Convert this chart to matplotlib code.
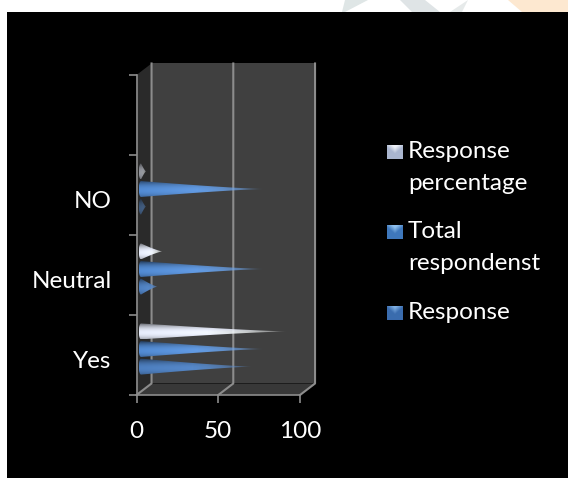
import numpy as np
import matplotlib
matplotlib.use("Agg")
import matplotlib.pyplot as plt
from matplotlib.colors import to_rgb
from matplotlib.patches import Polygon, Rectangle

categorias = ["Yes", "Neutral", "NO", ""]
response = [68, 10, 3]
total_respondents = [75, 75, 75]
response_percentage = [89, 13, 3]

series_labels = ["Response\npercentage", "Total\nrespondenst", "Response"]
x_ticks = [0, 50, 100]

W, H = 568, 478
plt.rcParams["font.family"] = ["Lato", "DejaVu Sans"]

fig = plt.figure(figsize=(W / 100, H / 100), dpi=100, facecolor="white")

# fondo negro y marca de agua de la pagina
fig.patches.append(Rectangle((7 / W, 0), (W - 7) / W, 1 - 12 / H, transform=fig.transFigure,
                             facecolor="black", edgecolor="none", zorder=-1))
for pts, col in [([(345, 0), (368, 0), (345, 12), (342, 12)], "#dfe6e6"),
                 ([(400, 0), (425, 0), (440, 12), (412, 12)], "#dfe4e6"),
                 ([(450, 12), (468, 0), (462, 12)], "#e6eaea"),
                 ([(508, 0), (568, 0), (568, 12), (522, 12)], "#fde8d0")]:
    fig.patches.append(Polygon([(x / W, 1 - y / H) for x, y in pts], transform=fig.transFigure,
                               facecolor=col, edgecolor="none", zorder=-2))

ax = fig.add_axes([136.5 / W, 1 - 395 / H, 163.5 / W, 320 / H])
ax.patch.set_visible(False)

DX, DY = 9.2, 0.144      # profundidad de la caja 3D en unidades de datos
GRIS = "#8c8c8c"

# paredes de la caja
ax.add_patch(Polygon([(DX, DY), (100 + DX, DY), (100 + DX, 4 + DY), (DX, 4 + DY)],
                     facecolor="#404040", edgecolor="none", clip_on=False, zorder=1))
ax.add_patch(Polygon([(0, 0), (DX, DY), (DX, 4 + DY), (0, 4)],
                     facecolor="#2a2a2a", edgecolor="none", clip_on=False, zorder=1))
ax.add_patch(Polygon([(0, 0), (100, 0), (100 + DX, DY), (DX, DY)],
                     facecolor="#383838", edgecolor="none", clip_on=False, zorder=1))

# rejilla sobre la pared y el piso
for v in x_ticks:
    ax.plot([v, v + DX, v + DX], [0, DY, 4 + DY], color=GRIS, lw=1.5, clip_on=False, zorder=2)


def cono(valor, yc, color, brillo):
    # barra conica horizontal con degradado, recortada a su silueta
    x0, x1 = 2.75, 2.75 + valor
    yc = yc + 0.075
    alto = 0.1
    n, m = 40, 120
    rgb = np.array(to_rgb(color))
    t = np.linspace(-1, 1, n)[:, None]
    s = np.linspace(0, 1, m)[None, :]
    luz = 1 - (t + 0.2) ** 2
    img = np.zeros((n, m, 4))
    for k in range(3):
        img[:, :, k] = np.clip(rgb[k] * (0.62 + 0.42 * luz) + brillo * s, 0, 1)
    # las barras muy cortas quedan casi apagadas
    opaco = 0.55 if valor < 5 else 1.0
    img[:, :, 3] = opaco * np.clip(1.1 - s ** 3, 0, 1)
    im = ax.imshow(img, extent=(x0 - 1.5, x1 + 1, yc - alto, yc + alto), origin="lower",
                   aspect="auto", interpolation="bilinear", zorder=4)
    base = np.linspace(np.pi / 2, 3 * np.pi / 2, 12)
    borde = [(x0 + 1.4 * np.cos(a), yc + alto * np.sin(a)) for a in base]
    u = np.linspace(0, 1, 30)
    arriba = [(x0 + (x1 - x0) * a, yc + alto * (1 - a) ** 1.25) for a in u]
    abajo = [(x0 + (x1 - x0) * a, yc - alto * (1 - a) ** 1.25) for a in u[::-1]]
    silueta = Polygon(arriba + abajo + borde[::-1], transform=ax.transData,
                      facecolor="none", edgecolor="none", clip_on=False)
    ax.add_patch(silueta)
    im.set_clip_path(silueta)


colores = ["#4a7ab8", "#4f86cc", "#dfe4f2"]
brillos = [0.08, 0.14, 0.1]
for i in range(3):
    cono(response[i], i + 0.28, colores[0], brillos[0])
    cono(total_respondents[i], i + 0.5, colores[1], brillos[1])
    cono(response_percentage[i], i + 0.72, colores[2], brillos[2])

ax.set_xlim(0, 100)
ax.set_ylim(0, 4)

# ejes frontales
for lado in ["top", "right"]:
    ax.spines[lado].set_visible(False)
for lado in ["left", "bottom"]:
    ax.spines[lado].set_color(GRIS)
    ax.spines[lado].set_linewidth(1.2)
    ax.spines[lado].set_zorder(3)

ax.set_xticks(x_ticks)
ax.set_yticks(range(5))
ax.set_yticklabels([])
ax.set_yticks(np.arange(4) + 0.44, minor=True)
ax.set_yticklabels(categorias, minor=True)
ax.tick_params(axis="both", which="major", color=GRIS, length=6, width=1.2, labelcolor="white",
               labelsize=17.5, pad=13)
ax.tick_params(axis="y", which="minor", length=0, labelcolor="white", labelsize=17.5, pad=18)

# leyenda a mano, cada cuadro es un eje pequeno con bisel
leyenda = [(152, "#aab6d0", "#eef1f8"), (232, "#3f78bc", "#8fc0ee"), (313, "#3a6cae", "#7fb0e4")]
for (yp, c1, c2), texto in zip(leyenda, series_labels):
    cuadro = fig.add_axes([387 / W, 1 - (yp + 7) / H, 15 / W, 14 / H])
    yy, xx = np.mgrid[0:1:16j, -1:1:16j]
    mezcla = np.clip(1 - yy * 2 - np.abs(xx) + 0.3, 0, 1)[:, :, None]
    cuadro.imshow(mezcla * np.array(to_rgb(c2)) + (1 - mezcla) * np.array(to_rgb(c1)), aspect="auto")
    cuadro.axis("off")
    fig.text(408 / W, 1 - (yp - 11) / H, texto, color="white", fontsize=17.5, va="top", ha="left",
             linespacing=1.65)

fig.savefig("out.png", dpi=100, facecolor="white")
